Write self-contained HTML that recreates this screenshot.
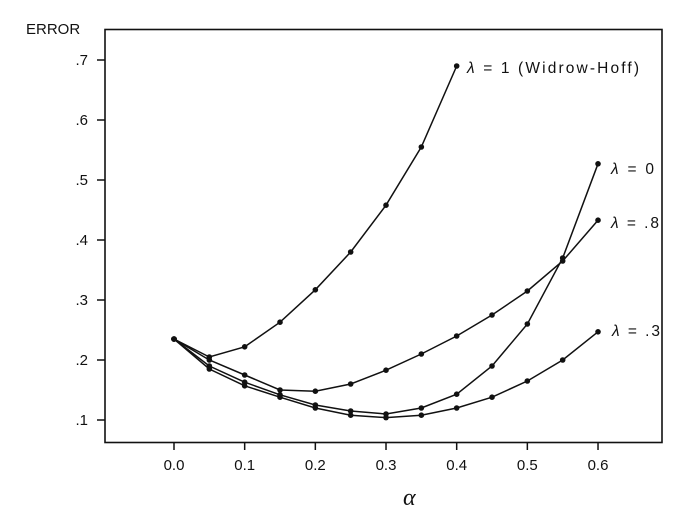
<!DOCTYPE html><html><head><style>body{margin:0;background:#fff}svg{display:block}text{font-family:"Liberation Sans",sans-serif;fill:#111}</style></head><body>
<svg id="s" width="676" height="524" viewBox="0 0 676 524">
<rect x="105" y="29.5" width="557" height="413" fill="none" stroke="#111" stroke-width="1.6"/>
<text x="26" y="34" font-size="15">ERROR</text>
<g id="g"></g>
<text x="403" y="505" font-size="24" font-style="italic" style="font-family:'Liberation Serif',serif">α</text>
<text x="467" y="73" font-size="15.5" textLength="172" lengthAdjust="spacing"><tspan font-style="italic">λ</tspan> = 1 (Widrow-Hoff)</text>
<text x="611" y="174" font-size="15.5" textLength="43" lengthAdjust="spacing"><tspan font-style="italic">λ</tspan> = 0</text>
<text x="611" y="228" font-size="15.5" textLength="48" lengthAdjust="spacing"><tspan font-style="italic">λ</tspan> = .8</text>
<text x="612" y="336" font-size="15.5" textLength="48" lengthAdjust="spacing"><tspan font-style="italic">λ</tspan> = .3</text>
</svg>
<script>
var g=document.getElementById('g'),h='';
function X(a){return 174+a*706.7}function Y(v){return 60+(0.7-v)*600}
[.7,.6,.5,.4,.3,.2,.1].forEach(function(v){var y=Y(v);h+='<line x1="97" x2="105" y1="'+y+'" y2="'+y+'" stroke="#111" stroke-width="1.5"/><text x="88" y="'+(y+5)+'" font-size="15" text-anchor="end">'+String(v).slice(1)+'</text>';});
for(var i=0;i<=6;i++){var x=X(i/10);h+='<line x1="'+x+'" x2="'+x+'" y1="442" y2="450" stroke="#111" stroke-width="1.5"/><text x="'+x+'" y="470" font-size="15" text-anchor="middle">'+(i/10).toFixed(1)+'</text>';}
var S=[[.235,.205,.222,.263,.317,.38,.458,.555,.69],
[.235,.19,.163,.142,.125,.115,.11,.12,.143,.19,.26,.37,.527],
[.235,.2,.175,.15,.148,.16,.183,.21,.24,.275,.315,.365,.433],
[.235,.185,.157,.138,.12,.108,.104,.108,.12,.138,.165,.2,.247]];
S.forEach(function(s){var p=s.map(function(v,i){return X(i*.05).toFixed(1)+','+Y(v).toFixed(1)});
h+='<polyline points="'+p.join(' ')+'" fill="none" stroke="#111" stroke-width="1.5"/>';
s.forEach(function(v,i){h+='<circle cx="'+X(i*.05)+'" cy="'+Y(v)+'" r="2.8" fill="#111"/>';});});
g.innerHTML=h;
</script></body></html>
